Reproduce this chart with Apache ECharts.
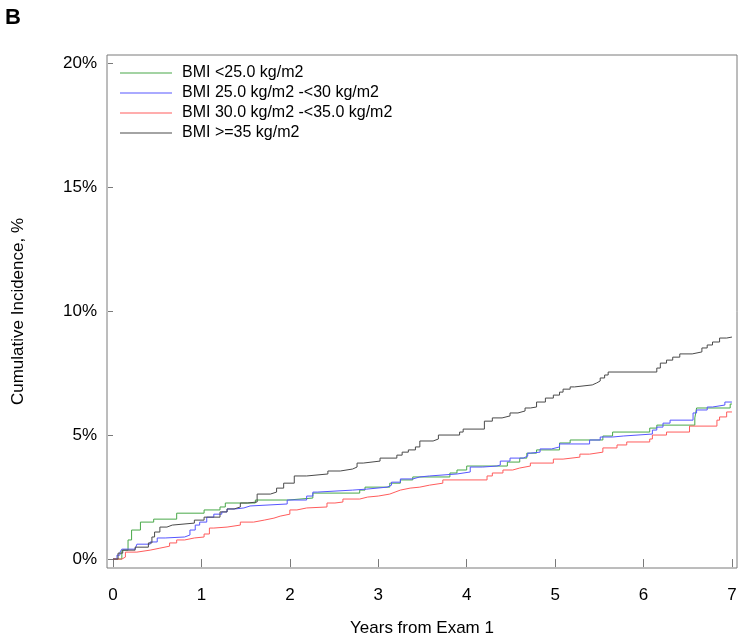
<!DOCTYPE html>
<html>
<head>
<meta charset="utf-8">
<script src="https://cdn.jsdelivr.net/npm/echarts@6/dist/echarts.min.js"></script>
<style>
html,body{margin:0;padding:0;background:#fff;}
#chart{width:738px;height:638px;}
</style>
</head>
<body>
<div id="chart"></div>
<script>
const seriesNames = ['BMI <25.0 kg/m2', 'BMI 25.0 kg/m2 -<30 kg/m2', 'BMI 30.0 kg/m2 -<35.0 kg/m2', 'BMI >=35 kg/m2'];
const xTicks = [0, 1, 2, 3, 4, 5, 6, 7];
const yTicks = [0, 5, 10, 15, 20];

const bmiUnder25 = [[0,0],[0.10,0.36],[0.17,0.77],[0.21,1.17],[0.31,1.49],[0.46,1.61],[0.72,1.85],[1.03,1.98],[1.21,2.10],[1.27,2.26],[1.61,2.38],[1.98,2.46],[2.26,2.66],[2.79,2.78],[2.85,2.90],[3.13,3.06],[3.25,3.19],[3.39,3.31],[3.81,3.47],[3.89,3.59],[4.00,3.75],[4.46,3.91],[4.60,4.07],[4.68,4.27],[4.79,4.40],[5.05,4.68],[5.17,4.80],[5.54,4.96],[5.65,5.12],[6.07,5.28],[6.15,5.40],[6.58,5.69],[6.60,6.09],[6.98,6.25],[7.0,6.25]];
const bmi25to30 = [[0,0],[0.045,0.16],[0.079,0.28],[0.10,0.40],[0.25,0.48],[0.27,0.60],[0.42,0.69],[0.50,0.85],[0.59,0.89],[0.81,0.97],[0.87,1.17],[0.93,1.37],[0.98,1.49],[1.06,1.69],[1.14,1.81],[1.23,1.90],[1.29,2.02],[1.38,2.06],[1.48,2.14],[1.55,2.22],[1.97,2.38],[2.19,2.54],[2.26,2.70],[2.31,2.78],[2.71,2.82],[2.87,2.90],[3.10,2.98],[3.15,3.10],[3.25,3.23],[3.39,3.31],[3.47,3.35],[3.58,3.43],[3.89,3.51],[4.04,3.71],[4.18,3.75],[4.34,3.79],[4.38,3.95],[4.49,4.07],[4.64,4.15],[4.69,4.27],[4.72,4.31],[4.83,4.44],[4.96,4.52],[5.05,4.64],[5.39,4.80],[5.51,4.92],[5.65,4.96],[5.77,5.04],[6.10,5.20],[6.15,5.32],[6.22,5.48],[6.30,5.60],[6.56,5.89],[6.60,6.01],[6.72,6.13],[6.78,6.21],[6.92,6.33],[7.0,6.33]];
const bmi30to35 = [[0,0],[0.10,0.08],[0.14,0.28],[0.27,0.36],[0.42,0.44],[0.53,0.52],[0.64,0.65],[0.72,0.77],[0.81,0.85],[0.92,0.89],[1.03,1.01],[1.09,1.25],[1.14,1.29],[1.29,1.37],[1.44,1.49],[1.59,1.57],[1.71,1.65],[1.82,1.73],[1.89,1.81],[2.00,1.98],[2.08,2.06],[2.19,2.10],[2.42,2.26],[2.51,2.30],[2.60,2.42],[2.79,2.50],[2.88,2.54],[3.00,2.62],[3.13,2.70],[3.19,2.78],[3.25,2.86],[3.36,2.90],[3.47,2.98],[3.58,3.06],[3.73,3.19],[4.23,3.35],[4.29,3.47],[4.41,3.59],[4.52,3.67],[4.60,3.75],[4.72,3.87],[4.98,4.03],[5.09,4.11],[5.28,4.23],[5.39,4.31],[5.54,4.48],[5.70,4.60],[5.81,4.72],[6.07,4.84],[6.10,5.00],[6.26,5.12],[6.52,5.36],[6.83,5.60],[6.86,5.73],[6.94,5.93],[7.0,5.93]];
const bmi35plus = [[0,0],[0.057,0.24],[0.11,0.36],[0.25,0.48],[0.40,0.65],[0.44,0.89],[0.47,1.09],[0.53,1.29],[0.61,1.37],[0.67,1.45],[0.92,1.57],[1.03,1.69],[1.21,1.90],[1.29,2.02],[1.37,2.10],[1.44,2.26],[1.52,2.30],[1.63,2.62],[1.78,2.70],[1.85,2.86],[1.93,3.06],[2.05,3.35],[2.19,3.43],[2.43,3.55],[2.57,3.63],[2.71,3.71],[2.76,3.87],[2.83,3.95],[3.02,4.07],[3.21,4.19],[3.27,4.31],[3.34,4.40],[3.42,4.52],[3.47,4.76],[3.62,4.84],[3.68,5.00],[3.92,5.12],[3.96,5.24],[4.20,5.56],[4.29,5.69],[4.40,5.77],[4.49,5.89],[4.58,5.97],[4.66,6.09],[4.72,6.13],[4.79,6.33],[4.89,6.49],[4.98,6.61],[5.05,6.73],[5.09,6.85],[5.17,6.94],[5.22,7.02],[5.42,7.10],[5.47,7.18],[5.51,7.30],[5.56,7.42],[5.60,7.54],[6.15,7.70],[6.19,7.90],[6.26,8.02],[6.33,8.14],[6.41,8.27],[6.55,8.35],[6.66,8.51],[6.72,8.63],[6.78,8.75],[6.86,8.91],[6.94,8.95],[7.0,8.95]];

const seriesData = [bmiUnder25, bmi25to30, bmi30to35, bmi35plus];
const colors = ['#48a848', '#5656ff', '#ff5c5c', '#4a4a4a'];
const FONT = '"Liberation Sans", Arial, sans-serif';

const chart = echarts.init(document.getElementById('chart'), null, {renderer: 'canvas'});
chart.setOption({
  backgroundColor: '#ffffff',
  animation: false,
  title: {
    text: 'B', left: 0, top: 2,
    textStyle: {fontFamily: FONT, fontSize: 22, fontWeight: 'bold', color: '#000'}
  },
  legend: {
    orient: 'vertical', left: 115, top: 58,
    icon: 'rect', itemWidth: 52, itemHeight: 1, itemGap: 0,
    data: seriesNames,
    textStyle: {fontFamily: FONT, fontSize: 16, color: '#000', lineHeight: 20, padding: [0, 0, 0, 5]}
  },
  grid: {
    left: 107, right: 1, top: 55, bottom: 70,
    show: true, borderColor: '#7a7a7a', borderWidth: 1,
    containLabel: false, outerBoundsMode: 'none'
  },
  xAxis: {
    type: 'value', min: -0.068, max: 7.057,
    name: 'Years from Exam 1', nameLocation: 'middle', nameGap: 52,
    nameTextStyle: {fontFamily: FONT, fontSize: 17, color: '#000'},
    axisLine: {show: false},
    splitLine: {show: false},
    axisTick: {show: true, length: 8, customValues: xTicks, lineStyle: {color: '#7a7a7a'}},
    axisLabel: {customValues: xTicks, margin: 19, fontFamily: FONT, fontSize: 17, color: '#000'}
  },
  yAxis: {
    type: 'value', min: -0.36, max: 20.32,
    name: 'Cumulative Incidence, %', nameLocation: 'middle', nameGap: 80, nameRotate: 90,
    nameTextStyle: {fontFamily: FONT, fontSize: 17, color: '#000'},
    axisLine: {show: false},
    splitLine: {show: false},
    axisTick: {show: true, length: 5, customValues: yTicks, lineStyle: {color: '#7a7a7a'}},
    axisLabel: {customValues: yTicks, margin: 10, fontFamily: FONT, fontSize: 17, color: '#000',
      formatter: v => v + '%'}
  },
  series: seriesNames.map((n, i) => ({
    name: n, type: 'line', step: 'end', symbol: 'none',
    data: seriesData[i],
    lineStyle: {color: colors[i], width: 1},
    itemStyle: {color: colors[i]},
    z: i === 3 ? 3 : 2
  }))
});
</script>
</body>
</html>
